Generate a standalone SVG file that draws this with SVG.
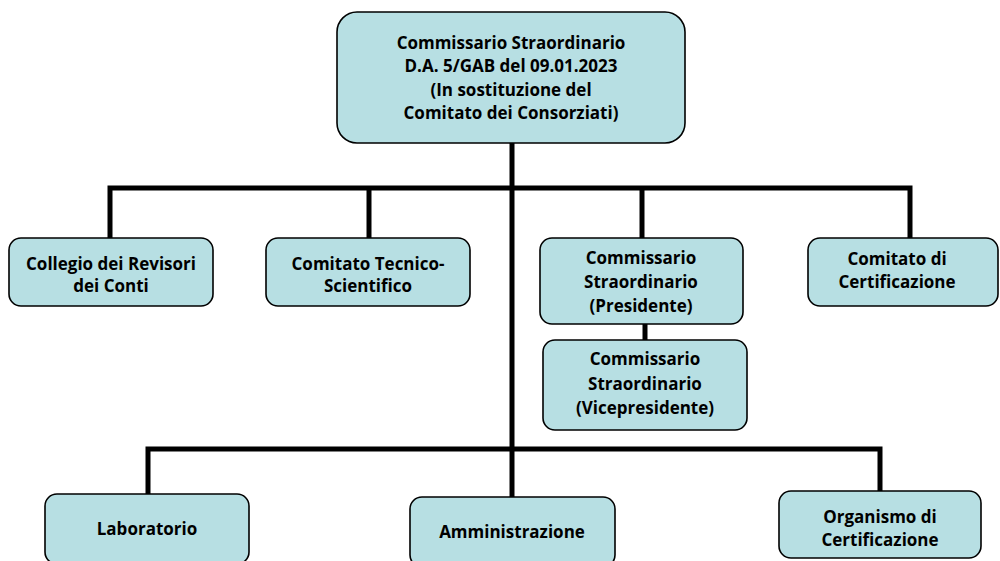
<svg xmlns="http://www.w3.org/2000/svg" width="1000" height="561" viewBox="0 0 1000 561">
<style>
.box{fill:#b7dfe3;stroke:#000;stroke-width:1.6}
.t{font-family:"Open Sans","Liberation Sans",sans-serif;font-weight:bold;font-size:17px;fill:#000;text-anchor:middle}
.c{stroke:#000;stroke-width:5;fill:none}
</style>
<rect width="1000" height="561" fill="#fff"/>
<g id="connectors">
<line class="c" x1="512" y1="143" x2="512" y2="449"/>
<polyline class="c" points="110,238 110,188 910,188 910,238"/>
<line class="c" x1="369" y1="188" x2="369" y2="238"/>
<line class="c" x1="642" y1="188" x2="642" y2="238"/>
<line class="c" x1="645" y1="324" x2="645" y2="340"/>
<polyline class="c" points="148,494 148,449 880,449 880,491"/>
<line class="c" x1="512" y1="449" x2="512" y2="497"/>
</g>
<g id="top">
<rect class="box" x="337" y="12" width="348" height="131" rx="20"/>
<text class="t" x="511" y="49">Commissario Straordinario</text>
<text class="t" x="511" y="72">D.A. 5/GAB del 09.01.2023</text>
<text class="t" x="511" y="96">(In sostituzione del</text>
<text class="t" x="511" y="119">Comitato dei Consorziati)</text>
</g>
<g id="collegio">
<rect class="box" x="9" y="238" width="204" height="68" rx="12"/>
<text class="t" x="111" y="270">Collegio dei Revisori</text>
<text class="t" x="111" y="292">dei Conti</text>
</g>
<g id="tecnico">
<rect class="box" x="266" y="238" width="204" height="68" rx="12"/>
<text class="t" x="368" y="270">Comitato Tecnico-</text>
<text class="t" x="368" y="292">Scientifico</text>
</g>
<g id="presidente">
<rect class="box" x="540" y="238" width="203" height="86" rx="12"/>
<text class="t" x="641" y="264">Commissario</text>
<text class="t" x="641" y="288">Straordinario</text>
<text class="t" x="641" y="312">(Presidente)</text>
</g>
<g id="vicepresidente">
<rect class="box" x="543" y="340" width="204" height="90" rx="12"/>
<text class="t" x="645" y="365">Commissario</text>
<text class="t" x="645" y="390">Straordinario</text>
<text class="t" x="645" y="414">(Vicepresidente)</text>
</g>
<g id="certificazione">
<rect class="box" x="808" y="238" width="190" height="68" rx="12"/>
<text class="t" x="897" y="265">Comitato di</text>
<text class="t" x="897" y="288">Certificazione</text>
</g>
<g id="laboratorio">
<rect class="box" x="45" y="494" width="204" height="70" rx="12"/>
<text class="t" x="147" y="535">Laboratorio</text>
</g>
<g id="amministrazione">
<rect class="box" x="410" y="497" width="205" height="70" rx="12"/>
<text class="t" x="512" y="538">Amministrazione</text>
</g>
<g id="organismo">
<rect class="box" x="779" y="491" width="202" height="67" rx="12"/>
<text class="t" x="880" y="523">Organismo di</text>
<text class="t" x="880" y="546">Certificazione</text>
</g>
</svg>
